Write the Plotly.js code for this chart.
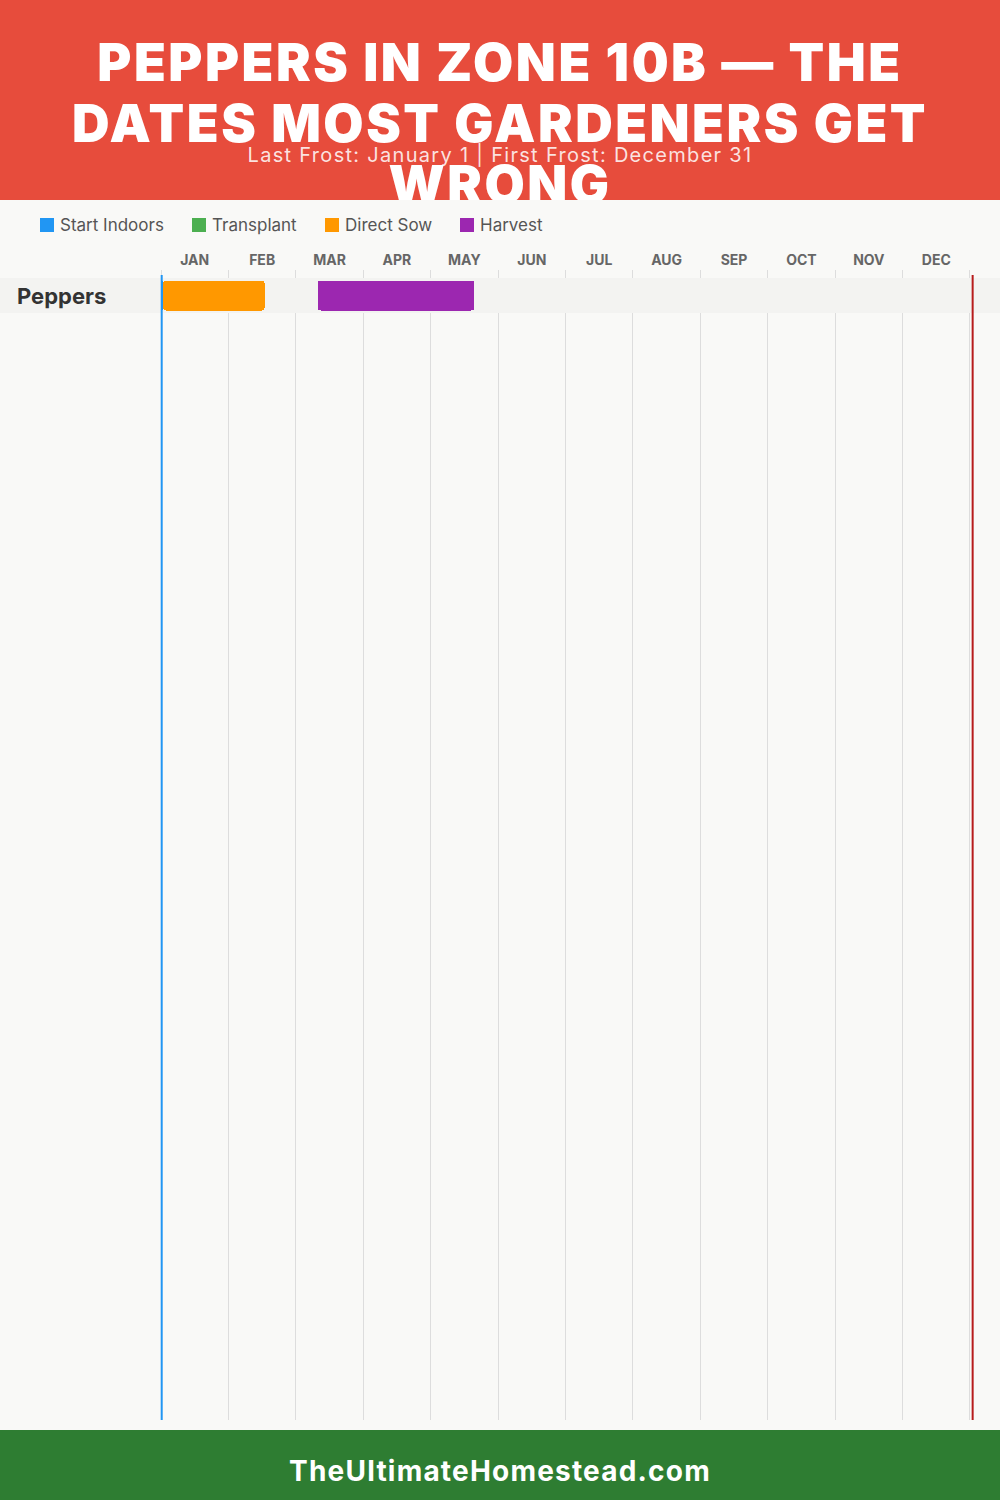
<!DOCTYPE html>
<html>
<head>
<meta charset="utf-8">
<script src="https://cdn.plot.ly/plotly-3.0.1.min.js"></script>
<style>
  html, body { margin: 0; padding: 0; background: #F9F9F7; }
  #page { width: 1000px; height: 1500px; position: relative; overflow: hidden; }
  #header { position: relative; width: 1000px; height: 200px; background: #E74C3C; overflow: hidden; }
  #title { position: absolute; left: 0; right: 0; top: 32px; text-align: center; color: #fff;
           font-family: Inter, "Open Sans", sans-serif; font-weight: 900; font-size: 52px;
           line-height: 61px; letter-spacing: 2.5px; white-space: nowrap; }
  #subtitle { position: absolute; left: 0; right: 0; top: 143px; text-align: center;
              color: rgba(255,255,255,0.85); font-family: Inter, "Open Sans", sans-serif;
              font-weight: 400; font-size: 20px; line-height: 24px; letter-spacing: 1.3px; white-space: nowrap; }
  #chart { width: 1000px; height: 1230px; }
  #footer { position: relative; width: 1000px; height: 70px; background: #2E7D32; }
  #footer div { position: absolute; left: 0; right: 0; top: 24px; text-align: center; color: #fff;
                font-family: Inter, "Open Sans", sans-serif; font-weight: 700; font-size: 28px;
                line-height: 34px; letter-spacing: 1.2px; }
</style>
</head>
<body>
<div id="page">
  <div id="header">
    <div id="title">PEPPERS IN ZONE 10B — THE<br>DATES MOST GARDENERS GET<br>WRONG</div>
    <div id="subtitle">Last Frost: January 1 | First Frost: December 31</div>
  </div>
  <div id="chart"></div>
  <div id="footer"><div>TheUltimateHomestead.com</div></div>
</div>
<script>
// ---- data ----
const crops = ['Peppers'];
const monthLabels = ['JAN','FEB','MAR','APR','MAY','JUN','JUL','AUG','SEP','OCT','NOV','DEC'];
const stageNames = ['Start Indoors', 'Transplant', 'Direct Sow', 'Harvest'];
const stageColors = ['#2196F3', '#4CAF50', '#FF9800', '#9C27B0'];
// periods per stage: [month, day] start and end, one entry per crop
const startIndoorsStart = [[1, 1]];
const startIndoorsEnd   = [[1, 2]];
const transplantStart   = [];
const transplantEnd     = [];
const directSowStart    = [[1, 2]];
const directSowEnd      = [[2, 16]];
const harvestStart      = [[3, 11]];
const harvestEnd        = [[5, 21]];
const lastFrost  = [1, 1];
const firstFrost = [12, 31];

// ---- helpers ----
const daysIn = [31,28,31,30,31,30,31,31,30,31,30,31];
function toMonthPos(md, isEnd) {
  const m = md[0], d = md[1];
  return (m - 1) + (isEnd ? d : d - 1) / daysIn[m - 1];
}
const stageStarts = [startIndoorsStart, transplantStart, directSowStart, harvestStart];
const stageEnds   = [startIndoorsEnd, transplantEnd, directSowEnd, harvestEnd];

const traces = stageNames.map((name, i) => {
  const starts = stageStarts[i].map(s => toMonthPos(s, false));
  const ends = stageEnds[i].map(e => toMonthPos(e, false));
  return {
    type: 'bar', orientation: 'h', name: name,
    y: starts.length ? crops.slice(0, starts.length) : [],
    base: starts,
    x: ends.map((e, k) => e - starts[k]),
    width: 0.857,
    marker: { color: stageColors[i], cornerradius: 3, line: { width: 0 } },
    hoverinfo: 'skip', showlegend: false
  };
});

// ---- layout geometry ----
const W = 1000, H = 1230;
const xMin = -0.03, xMax = 12.06;
const L = 159, R = 26, T = 70, B = 10;
const pw = W - L - R, ph = H - T - B;
const rowPx = 35;
const yTop = -25.5 / rowPx;
const yBottom = yTop + ph / rowPx;
const px2paperX = p => (p - L) / pw;
const px2paperY = p => 1 + (T - p) / ph;   // p = pixel from top of chart div

const fontFam = 'Inter, "Open Sans", sans-serif';

const frostTop = 1 - 5 / ph;
const shapes = [
  { type: 'rect', layer: 'below', xref: 'paper', yref: 'y', x0: px2paperX(0), x1: px2paperX(W),
    y0: -0.5, y1: 0.5, fillcolor: '#F3F3F1', line: { width: 0 } },
  { type: 'rect', layer: 'between', xref: 'x', yref: 'y', x0: xMin, x1: xMax,
    y0: -0.5, y1: 0.5, fillcolor: '#F3F3F1', line: { width: 0 } },
  { type: 'line', layer: 'above', xref: 'x', yref: 'paper',
    x0: toMonthPos(lastFrost, false) + 0.01, x1: toMonthPos(lastFrost, false) + 0.01,
    y0: 0, y1: frostTop, line: { color: '#2196F3', width: 2 } },
  { type: 'line', layer: 'above', xref: 'x', yref: 'paper',
    x0: toMonthPos(firstFrost, true) + 0.04, x1: toMonthPos(firstFrost, true) + 0.04,
    y0: 0, y1: frostTop, line: { color: '#B71C1C', width: 2 } }
];

const annotations = crops.map(c => ({
  xref: 'paper', yref: 'y', x: px2paperX(15), y: c, xanchor: 'left', yanchor: 'middle',
  text: '<b>' + c + '</b>', showarrow: false,
  font: { family: fontFam, size: 22, color: '#333' }
}));

// custom legend row (square + label) for each stage
const legendLeft = [40, 192, 325, 460];
const legendMidY = 25;
stageNames.forEach((name, i) => {
  shapes.push({ type: 'rect', layer: 'above', xref: 'paper', yref: 'paper',
    x0: px2paperX(legendLeft[i]), x1: px2paperX(legendLeft[i] + 14),
    y0: px2paperY(legendMidY + 7), y1: px2paperY(legendMidY - 7),
    fillcolor: stageColors[i], line: { width: 0 } });
  annotations.push({ xref: 'paper', yref: 'paper', x: px2paperX(legendLeft[i] + 18), y: px2paperY(legendMidY),
    xanchor: 'left', yanchor: 'middle', showarrow: false, text: name,
    font: { family: fontFam, size: 17, color: '#555' } });
});

const layout = {
  width: W, height: H,
  margin: { l: L, r: R, t: T, b: B, pad: 0 },
  paper_bgcolor: '#F9F9F7', plot_bgcolor: '#F9F9F7',
  barmode: 'overlay',
  bargap: 0,
  showlegend: false,
  xaxis: {
    side: 'top', range: [xMin, xMax], fixedrange: true,
    tickmode: 'array', tickvals: monthLabels.map((m, i) => i + 0.5), ticktext: monthLabels,
    showgrid: false, zeroline: false, showline: false, ticks: '', ticklabelstandoff: 1,
    tickfont: { family: fontFam, size: 14, color: '#666', weight: 700 },
    minor: { tickmode: 'linear', tick0: 0, dtick: 1, showgrid: true, gridcolor: '#DDDDDD', gridwidth: 1, ticks: '' }
  },
  yaxis: {
    type: 'category', range: [yBottom, yTop], fixedrange: true,
    showgrid: false, zeroline: false, showline: false, showticklabels: false, ticks: ''
  },
  shapes: shapes,
  annotations: annotations
};

Plotly.newPlot('chart', traces, layout, { displayModeBar: false, staticPlot: true });
</script>
</body>
</html>
